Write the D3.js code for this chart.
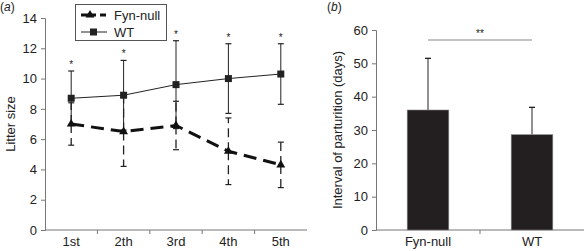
<!DOCTYPE html>
<html>
<head>
<meta charset="utf-8">
<script src="https://cdn.jsdelivr.net/npm/d3@7"></script>
<style>
  body { margin: 0; background: #fff; }
  svg { font-family: "Liberation Sans", Arial, sans-serif; }
  .tick text { font-size: 13px; fill: #222; }
  .axis path, .axis line { stroke: #777; }
</style>
</head>
<body>
<div class="container"></div>
<script>
const WIDTH = 584,
    HEIGHT = 251;

// panel (a) data
const litters = ['1st', '2th', '3rd', '4th', '5th'];
const wtMean = [8.7, 8.9, 9.6, 10.0, 10.3];
const wtErr = [1.8, 2.3, 2.9, 2.3, 2.0];
const fynMean = [7.0, 6.5, 6.9, 5.2, 4.3];
const fynErr = [1.4, 2.3, 1.6, 2.2, 1.5];
const litterTicks = [0, 2, 4, 6, 8, 10, 12, 14];

// panel (b) data
const groups = ['Fyn-null', 'WT'];
const intervalMean = [36.0, 28.6];
const intervalErr = [15.5, 8.2];
const intervalTicks = [0, 10, 20, 30, 40, 50, 60];

const svg = d3.select('.container').append('svg')
    .attr('width', WIDTH)
    .attr('height', HEIGHT);

// ---------- panel (a) ----------
const xA = d3.scaleBand().domain(litters).range([45, 307]);
const yA = d3.scaleLinear().domain([0, 14]).range([230, 18]);

svg.append('g').attr('class', 'axis')
    .attr('transform', 'translate(0,230)')
    .call(d3.axisBottom(xA).tickSize(0).tickPadding(7))
    .call(g => g.select('.domain').attr('d', 'M45,0H307'));
// ticks between categories
svg.append('g').selectAll('line')
    .data(litters.slice(1))
    .enter().append('line')
    .attr('x1', d => xA(d)).attr('x2', d => xA(d))
    .attr('y1', 230).attr('y2', 234)
    .attr('stroke', '#777');

svg.append('g').attr('class', 'axis')
    .attr('transform', 'translate(45,0)')
    .call(d3.axisLeft(yA).tickValues(litterTicks).tickSize(4).tickPadding(4));

const cx = d => xA(d) + xA.bandwidth() / 2;

const wtData = litters.map((d, i) => ({ k: d, m: wtMean[i], e: wtErr[i] }));
const fynData = litters.map((d, i) => ({ k: d, m: fynMean[i], e: fynErr[i] }));

// WT error bars (solid)
const errA = svg.append('g');
errA.selectAll('.wtbar').data(wtData).enter().append('line')
    .attr('x1', d => cx(d.k)).attr('x2', d => cx(d.k))
    .attr('y1', d => yA(d.m + d.e)).attr('y2', d => yA(d.m - d.e))
    .attr('stroke', '#222').attr('stroke-width', 1);
errA.selectAll('.wtcapT').data(wtData).enter().append('line')
    .attr('x1', d => cx(d.k) - 3).attr('x2', d => cx(d.k) + 3)
    .attr('y1', d => yA(d.m + d.e)).attr('y2', d => yA(d.m + d.e))
    .attr('stroke', '#222').attr('stroke-width', 1.2);
errA.selectAll('.wtcapB').data(wtData).enter().append('line')
    .attr('x1', d => cx(d.k) - 3).attr('x2', d => cx(d.k) + 3)
    .attr('y1', d => yA(d.m - d.e)).attr('y2', d => yA(d.m - d.e))
    .attr('stroke', '#222').attr('stroke-width', 1.2);

// Fyn-null error bars (dashed)
errA.selectAll('.fbar').data(fynData).enter().append('line')
    .attr('x1', d => cx(d.k)).attr('x2', d => cx(d.k))
    .attr('y1', d => yA(d.m)).attr('y2', d => yA(d.m + d.e))
    .attr('stroke', '#222').attr('stroke-width', 1.3)
    .attr('stroke-dasharray', '9,5');
errA.selectAll('.fbar2').data(fynData).enter().append('line')
    .attr('x1', d => cx(d.k)).attr('x2', d => cx(d.k))
    .attr('y1', d => yA(d.m)).attr('y2', d => yA(d.m - d.e))
    .attr('stroke', '#222').attr('stroke-width', 1.3)
    .attr('stroke-dasharray', '9,5');
errA.selectAll('.fcapT').data(fynData).enter().append('line')
    .attr('x1', d => cx(d.k) - 3).attr('x2', d => cx(d.k) + 3)
    .attr('y1', d => yA(d.m + d.e)).attr('y2', d => yA(d.m + d.e))
    .attr('stroke', '#222').attr('stroke-width', 1.2);
errA.selectAll('.fcapB').data(fynData).enter().append('line')
    .attr('x1', d => cx(d.k) - 3).attr('x2', d => cx(d.k) + 3)
    .attr('y1', d => yA(d.m - d.e)).attr('y2', d => yA(d.m - d.e))
    .attr('stroke', '#222').attr('stroke-width', 1.2);

const lineA = d3.line().x(d => cx(d.k)).y(d => yA(d.m));

svg.append('path').attr('d', lineA(wtData))
    .attr('fill', 'none').attr('stroke', '#222').attr('stroke-width', 1);
svg.append('path').attr('d', lineA(fynData))
    .attr('fill', 'none').attr('stroke', '#111').attr('stroke-width', 3)
    .attr('stroke-dasharray', '13,7');

svg.append('g').selectAll('rect').data(wtData).enter().append('rect')
    .attr('x', d => cx(d.k) - 3.5).attr('y', d => yA(d.m) - 3.5)
    .attr('width', 7).attr('height', 7).attr('fill', '#222');

const tri = d3.symbol().type(d3.symbolTriangle).size(34);
svg.append('g').selectAll('path').data(fynData).enter().append('path')
    .attr('d', tri)
    .attr('transform', d => `translate(${cx(d.k)},${yA(d.m)})`)
    .attr('fill', '#111');

// significance stars
svg.append('g').selectAll('text').data(wtData).enter().append('text')
    .attr('x', d => cx(d.k)).attr('y', d => yA(d.m + d.e) - 3)
    .attr('text-anchor', 'middle').attr('font-size', 10).attr('fill', '#222')
    .text('*');

// legend
const leg = svg.append('g');
leg.append('rect').attr('x', 75.5).attr('y', 4.5).attr('width', 91).attr('height', 36)
    .attr('fill', '#fff').attr('stroke', '#555');
leg.append('line').attr('x1', 81).attr('x2', 108).attr('y1', 15).attr('y2', 15)
    .attr('stroke', '#111').attr('stroke-width', 3).attr('stroke-dasharray', '15,4,6');
leg.append('path').attr('d', tri).attr('transform', 'translate(90,15)').attr('fill', '#111');
leg.append('line').attr('x1', 81).attr('x2', 107).attr('y1', 32).attr('y2', 32)
    .attr('stroke', '#222').attr('stroke-width', 1);
leg.append('rect').attr('x', 90).attr('y', 28.5).attr('width', 7).attr('height', 7).attr('fill', '#222');
leg.append('text').attr('x', 114).attr('y', 20).attr('font-size', 13).attr('fill', '#222').text('Fyn-null');
leg.append('text').attr('x', 114).attr('y', 37).attr('font-size', 13).attr('fill', '#222').text('WT');

svg.append('text').attr('x', 0).attr('y', 11).attr('font-size', 12).attr('fill', '#222')
    .html('(<tspan font-style="italic">a</tspan>)');
svg.append('text').attr('transform', 'translate(15,124) rotate(-90)')
    .attr('text-anchor', 'middle').attr('font-size', 13).attr('fill', '#222')
    .text('Litter size');

// ---------- panel (b) ----------
const xB = d3.scaleBand().domain(groups).range([376, 584]).paddingInner(0.6).paddingOuter(0.3);
const yB = d3.scaleLinear().domain([0, 60]).range([230, 30]);

svg.append('g').attr('class', 'axis')
    .attr('transform', 'translate(0,230)')
    .call(d3.axisBottom(xB).tickSize(0).tickPadding(7))
    .call(g => g.select('.domain').attr('d', 'M376,0H584'));
svg.append('line').attr('x1', 480).attr('x2', 480).attr('y1', 230).attr('y2', 234).attr('stroke', '#777');

svg.append('g').attr('class', 'axis')
    .attr('transform', 'translate(376,0)')
    .call(d3.axisLeft(yB).tickValues(intervalTicks).tickSize(4).tickPadding(4));

const barData = groups.map((d, i) => ({ k: d, m: intervalMean[i], e: intervalErr[i] }));
const bx = d => xB(d) + xB.bandwidth() / 2;

svg.append('g').selectAll('line').data(barData).enter().append('line')
    .attr('x1', d => bx(d.k)).attr('x2', d => bx(d.k))
    .attr('y1', d => yB(d.m)).attr('y2', d => yB(d.m + d.e))
    .attr('stroke', '#222').attr('stroke-width', 1);
svg.append('g').selectAll('line').data(barData).enter().append('line')
    .attr('x1', d => bx(d.k) - 3).attr('x2', d => bx(d.k) + 3)
    .attr('y1', d => yB(d.m + d.e)).attr('y2', d => yB(d.m + d.e))
    .attr('stroke', '#222').attr('stroke-width', 1.3);

svg.append('g').selectAll('rect').data(barData).enter().append('rect')
    .attr('x', d => xB(d.k)).attr('y', d => yB(d.m))
    .attr('width', xB.bandwidth()).attr('height', d => yB(0) - yB(d.m))
    .attr('fill', '#231f20').attr('stroke', '#888').attr('stroke-width', 0.6);

svg.append('line').attr('x1', bx(groups[0])).attr('x2', bx(groups[1]))
    .attr('y1', 40).attr('y2', 40).attr('stroke', '#888').attr('stroke-width', 1.2);
svg.append('text').attr('x', (bx(groups[0]) + bx(groups[1])) / 2).attr('y', 37)
    .attr('text-anchor', 'middle').attr('font-size', 10).attr('fill', '#222').text('**');

svg.append('text').attr('x', 327).attr('y', 11).attr('font-size', 12).attr('fill', '#222')
    .html('(<tspan font-style="italic">b</tspan>)');
svg.append('text').attr('transform', 'translate(342,130) rotate(-90)')
    .attr('text-anchor', 'middle').attr('font-size', 13).attr('fill', '#222')
    .text('Interval of parturition (days)');
</script>
</body>
</html>
